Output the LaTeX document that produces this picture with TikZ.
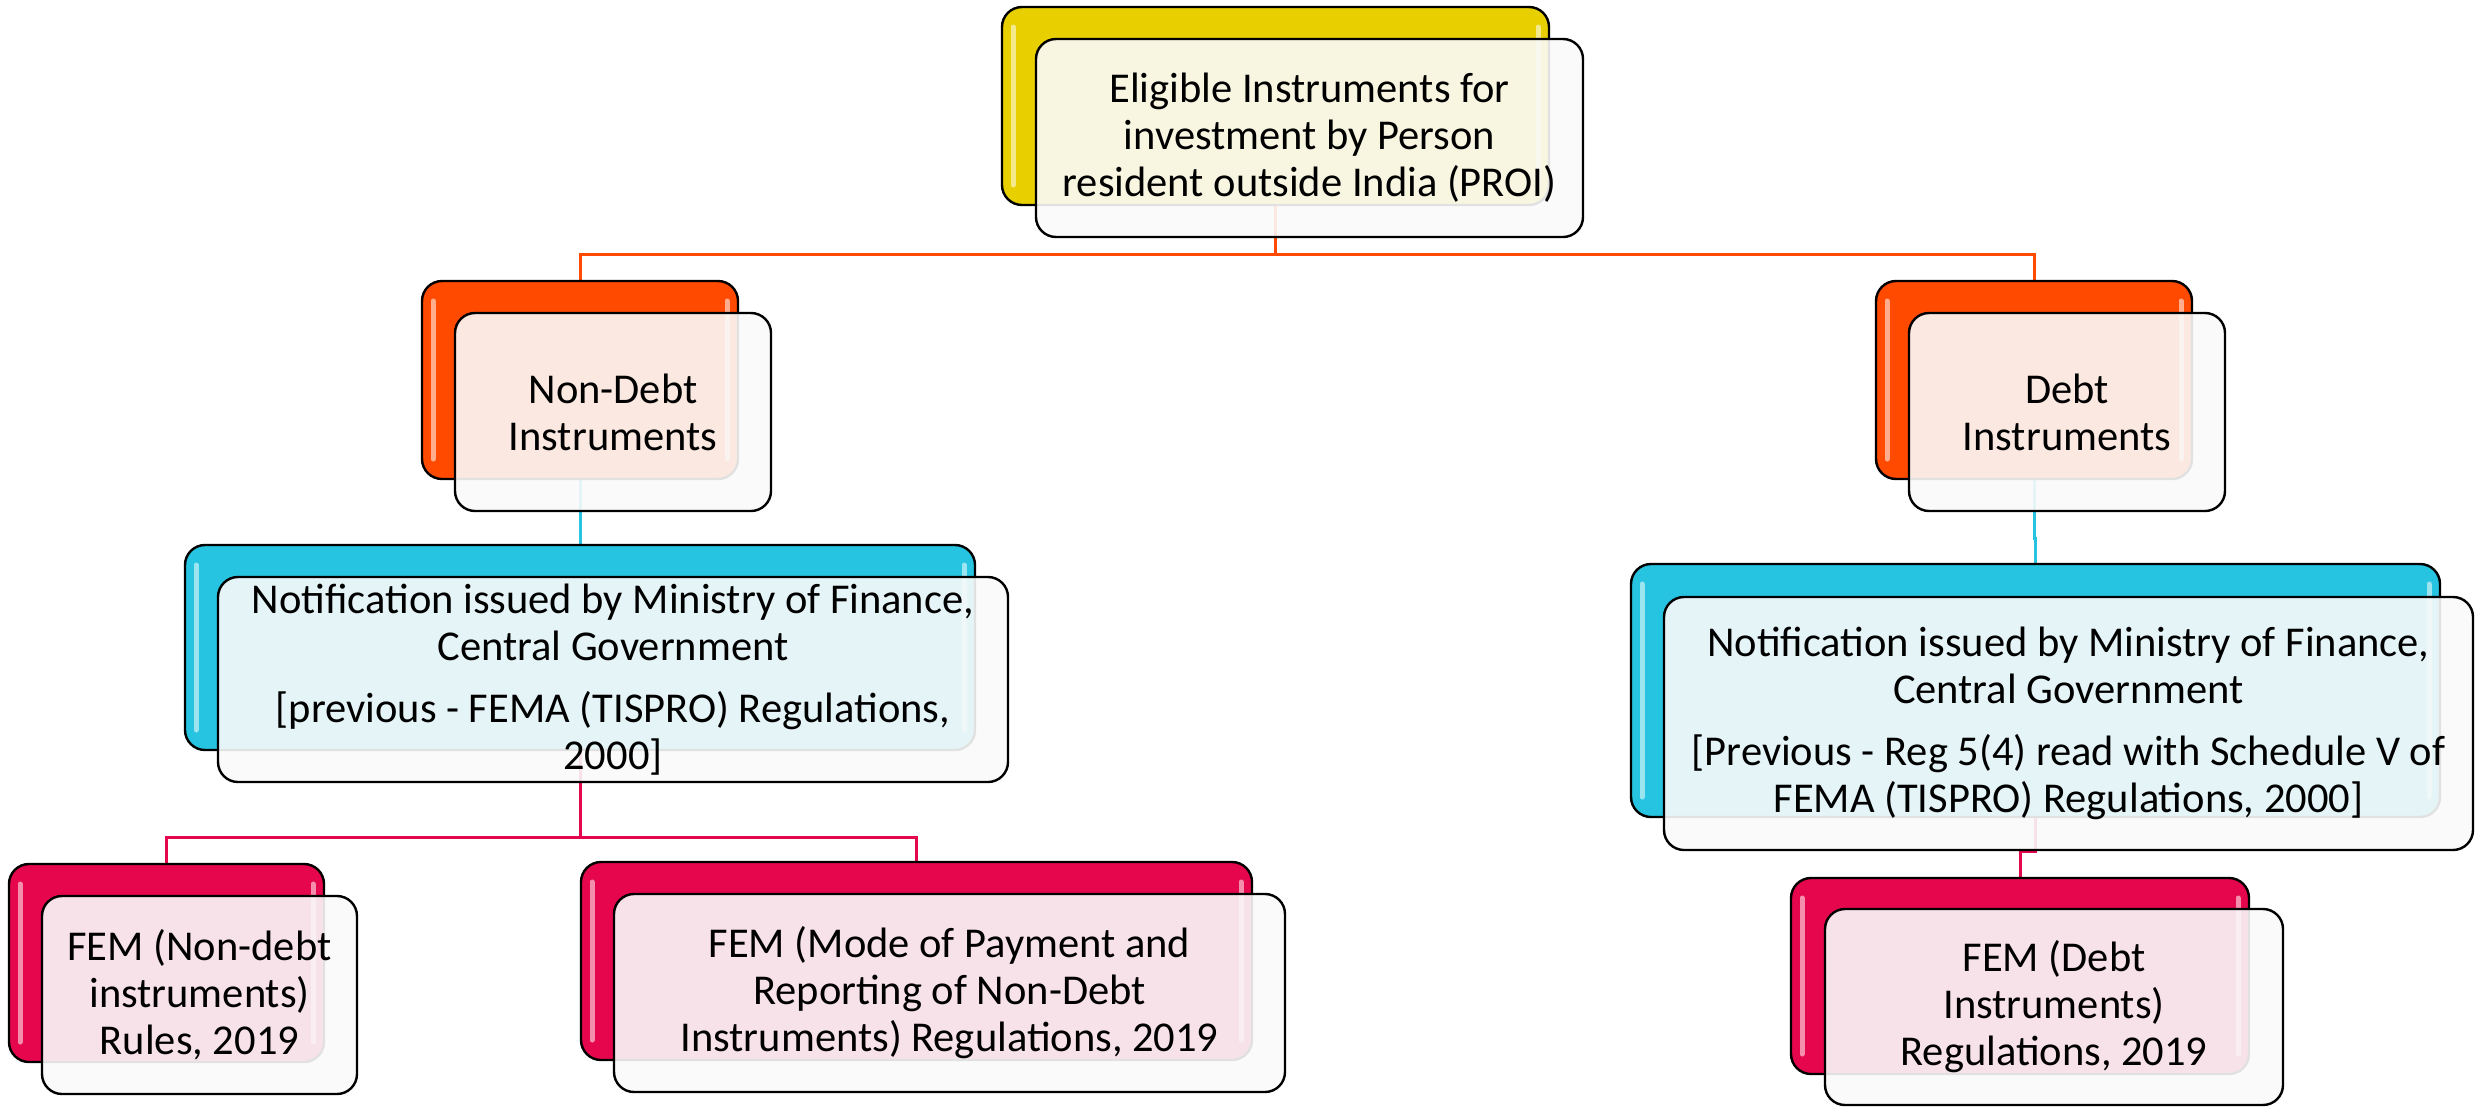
\documentclass[tikz,border=0pt]{standalone}
\usepackage{fontspec}
\setmainfont{Carlito}
\definecolor{ylw}{HTML}{E8D000}
\definecolor{org}{HTML}{FF4A00}
\definecolor{cyn}{HTML}{26C4E0}
\definecolor{pnk}{HTML}{E6064E}
\definecolor{frontfill}{HTML}{FAFAFA}
\pgfdeclarelayer{bg}
\pgfsetlayers{bg,main}
\newcommand\BxFont{\fontsize{42.5}{47}\selectfont}
\newcommand\BackBox[6]{%
  \node[backbox, fill=#6, minimum width=#4pt, minimum height=#5pt] (#1) at (#2,#3) {};
  \draw[gloss] ([shift={(11pt,-20pt)}]#1.north west) -- ([shift={(11pt,20pt)}]#1.south west);
  \draw[gloss] ([shift={(-11pt,-20pt)}]#1.north east) -- ([shift={(-11pt,20pt)}]#1.south east);
}
\begin{document}
\begin{tikzpicture}[x=1pt,y=-1pt,
  backbox/.style={draw=black, line width=2.4pt, rounded corners=20pt, inner sep=0pt, outer sep=0pt},
  frontbox/.style={draw=black, line width=2.4pt, rounded corners=20pt, inner sep=0pt, outer sep=0pt,
    fill=frontfill, fill opacity=0.9, text opacity=1, align=center, font=\BxFont},
  gloss/.style={line width=5pt, line cap=round, draw=white, draw opacity=0.55},
  conn/.style={line width=3pt}]
\useasboundingbox (0,0) rectangle (2478,1106);

% level 0
\BackBox{topB}{1275.5}{106}{547}{198}{ylw}
\node[frontbox, minimum width=547pt, minimum height=198pt] (topF) at (1309.5,138)
  {Eligible Instruments for\\investment by Person\\resident outside India (PROI)};

% level 1
\BackBox{ndB}{580}{380}{316}{198}{org}
\node[frontbox, minimum width=316pt, minimum height=198pt] (ndF) at (613,412)
  {Non-Debt\\Instruments};
\BackBox{dB}{2034}{380}{316}{198}{org}
\node[frontbox, minimum width=316pt, minimum height=198pt] (dF) at (2067,412)
  {Debt\\Instruments};

% level 2
\BackBox{lnB}{580}{647.5}{790}{205}{cyn}
\node[frontbox, minimum width=790pt, minimum height=205pt] (lnF) at (613,679.5)
  {Notification issued by Ministry of Finance,\\Central Government\\[15pt]
   [previous - FEMA (TISPRO) Regulations,\\2000]};
\BackBox{rnB}{2035.5}{690.5}{809}{253}{cyn}
\node[frontbox, minimum width=809pt, minimum height=253pt] (rnF) at (2068.5,723.5)
  {Notification issued by Ministry of Finance,\\Central Government\\[15pt]
   [Previous - Reg 5(4) read with Schedule V of\\FEMA (TISPRO) Regulations, 2000]};

% level 3
\BackBox{foneB}{166.5}{963}{315}{198}{pnk}
\node[frontbox, minimum width=315pt, minimum height=198pt] (foneF) at (199.5,995)
  {FEM (Non-debt\\instruments)\\Rules, 2019};
\BackBox{ftwoB}{916.5}{961}{671}{198}{pnk}
\node[frontbox, minimum width=671pt, minimum height=198pt] (ftwoF) at (949.5,993)
  {FEM (Mode of Payment and\\Reporting of Non-Debt\\Instruments) Regulations, 2019};
\BackBox{fthreeB}{2020}{976}{458}{196}{pnk}
\node[frontbox, minimum width=458pt, minimum height=196pt] (fthreeF) at (2054,1007)
  {FEM (Debt\\Instruments)\\Regulations, 2019};

% connectors (behind the boxes)
\begin{pgfonlayer}{bg}
  \fill[white] (0,0) rectangle (2478,1106);
  \coordinate (jtop) at (1275.5,254);
  \coordinate (jrc) at (2034,538);
  \coordinate (jlp) at (580,837);
  \coordinate (jrp) at (2035.5,851);
  \draw[conn, org] (topB.south) |- (jtop) -| (ndB.north);
  \draw[conn, org] (jtop) -| (dB.north);
  \draw[conn, cyn] (ndB.south) -- (lnB.north);
  \draw[conn, cyn] (dB.south) |- (jrc) -| (rnB.north);
  \draw[conn, pnk] (lnB.south) |- (jlp) -| (foneB.north);
  \draw[conn, pnk] (jlp) -| (ftwoB.north);
  \draw[conn, pnk] (rnB.south) |- (jrp) -| (fthreeB.north);
\end{pgfonlayer}
\end{tikzpicture}
\end{document}
